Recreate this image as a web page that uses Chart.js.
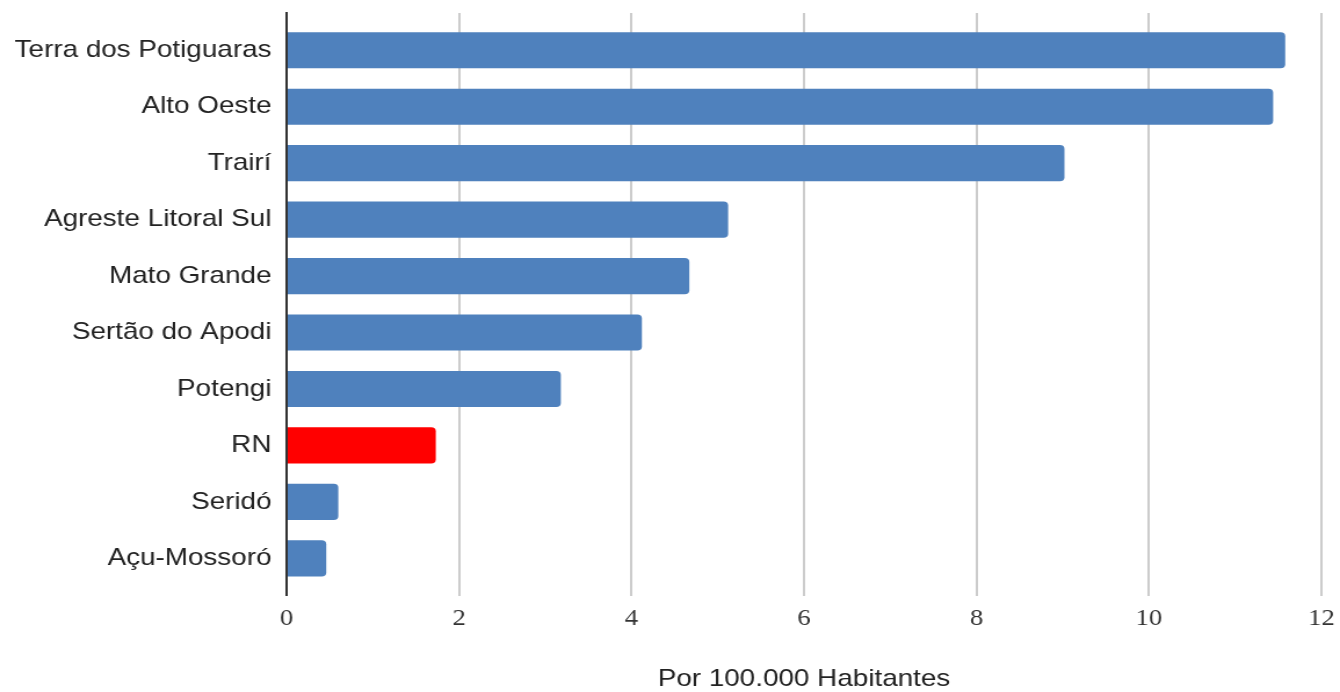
<!DOCTYPE html>
<html>
<head>
<meta charset="utf-8">
<script src="https://cdn.jsdelivr.net/npm/chart.js@4/dist/chart.umd.min.js"></script>
<style>
	html, body { margin: 0; padding: 0; background: #fff; overflow: hidden; }
	#wrap { width: 1340px; height: 692px; }
	/* the reference is drawn a bit wider than tall, so the canvas is stretched */
	#myChart { width: 1340px; height: 692px; display: block; }
</style>
</head>
<body>
<div id="wrap"><canvas id="myChart" width="1155" height="692" style="width:1340px;height:692px"></canvas></div>
<script>
// regions, top to bottom
var regionLabels = ['Terra dos Potiguaras', 'Alto Oeste', 'Trairí', 'Agreste Litoral Sul',
	'Mato Grande', 'Sertão do Apodi', 'Potengi', 'RN', 'Seridó', 'Açu-Mossoró'];
var rateValues = [11.58, 11.44, 9.02, 5.12, 4.67, 4.12, 3.18, 1.73, 0.60, 0.46];
var xTickValues = [0, 2, 4, 6, 8, 10, 12];
var xTitle = 'Por 100.000 Habitantes';

var blue = '#4f81bd';
var red = '#ff0000';

function getPoints() {
	var points = [];
	for (var i = 0; i < rateValues.length; i++) {
		points.push({ x: rateValues[i], y: i });
	}
	return points;
}

function getColors() {
	var colors = [];
	for (var i = 0; i < regionLabels.length; i++) {
		colors.push(regionLabels[i] === 'RN' ? red : blue);
	}
	return colors;
}

var ctx = document.getElementById('myChart').getContext('2d');
var myChart = new Chart(ctx, {
	type: 'bar',
	data: {
		datasets: [{
			data: getPoints(),
			backgroundColor: getColors(),
			borderRadius: 4,
			borderSkipped: 'start',
			categoryPercentage: 0.8,
			barPercentage: 0.8
		}]
	},
	options: {
		responsive: false,
		animation: false,
		devicePixelRatio: 1,
		indexAxis: 'y',
		layout: { padding: { top: 13, right: 16, left: 0, bottom: 0 } },
		plugins: { legend: { display: false }, tooltip: { enabled: false } },
		scales: {
			x: {
				type: 'linear',
				min: 0,
				max: 12,
				afterBuildTicks: function (scale) {
					scale.ticks = xTickValues.map(function (v) { return { value: v }; });
				},
				afterFit: function (scale) {
					scale.paddingLeft = 0;
					scale.paddingRight = 0;
				},
				grid: {
					color: function (c) { return c.tick && c.tick.value === 0 ? '#333' : '#cccccc'; },
					lineWidth: 2,
					drawTicks: false
				},
				border: { display: false },
				ticks: {
					padding: 10,
					color: '#333',
					font: { family: 'Liberation Serif', size: 23 }
				},
				title: {
					display: true,
					text: xTitle,
					color: '#222',
					font: { family: 'Liberation Sans', size: 24 },
					padding: { top: 22, bottom: -2 }
				}
			},
			y: {
				type: 'linear',
				reverse: true,
				offset: false,
				min: -0.66,
				max: 9.66,
				afterBuildTicks: function (scale) {
					scale.ticks = regionLabels.map(function (l, i) { return { value: i }; });
				},
				afterFit: function (scale) {
					scale.width = 247;
					scale.paddingTop = 0;
					scale.paddingBottom = 0;
				},
				grid: { display: false, drawTicks: false },
				border: { display: true, color: '#333', width: 2 },
				ticks: {
					autoSkip: false,
					padding: 13,
					color: '#222',
					font: { family: 'Liberation Sans', size: 24 },
					callback: function (v) { return regionLabels[v]; }
				}
			}
		}
	}
});
</script>
</body>
</html>
